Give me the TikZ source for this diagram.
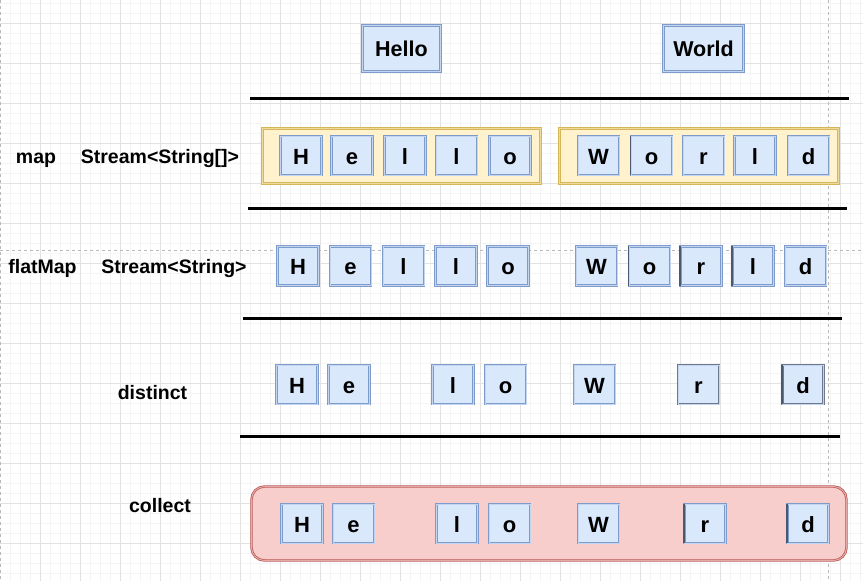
\documentclass[tikz,border=0pt]{standalone}
\usepackage{fontspec}
\setmainfont{Liberation Sans}
\definecolor{bfill}{HTML}{DAE8FC}
\definecolor{bdraw}{HTML}{7E9CCB}
\definecolor{binner}{HTML}{C3D5F0}
\definecolor{ydraw}{HTML}{D6B656}
\definecolor{yfill}{HTML}{FFF2CC}
\definecolor{rdraw}{HTML}{B85450}
\definecolor{rfill}{HTML}{F8CECC}
\definecolor{gmin}{HTML}{F4F4F4}
\definecolor{gmaj}{HTML}{E2E2E2}
\definecolor{darkb}{HTML}{4A5870}
\begin{document}
\begin{tikzpicture}[x=1pt,y=-1pt,
  minorgrid/.style={draw=gmin,line width=0.6pt},
  majorgrid/.style={draw=gmaj,line width=0.8pt},
  pagebreak/.style={draw=gray!55,line width=0.6pt,dash pattern=on 3pt off 3pt},
  letterbox/.style={rectangle,draw=bdraw,double=binner,double distance=1pt,line width=0.8pt,
    fill=bfill,inner sep=0pt,minimum width=41pt,minimum height=39pt,
    text height=17pt,text depth=0pt,
    font=\fontsize{22}{24}\selectfont\bfseries},
  wordbox/.style={rectangle,draw=bdraw,double=binner,double distance=1pt,line width=0.8pt,
    fill=bfill,inner sep=0pt,minimum height=46pt,font=\fontsize{21.5}{24}\selectfont\bfseries},
  darkbox/.style={letterbox,draw=darkb!80},
  groupbox/.style={rectangle,draw=ydraw,double=yfill!60!ydraw,double distance=1pt,line width=0.7pt,
    fill=yfill,inner sep=0pt,minimum height=55pt},
  collectbox/.style={rectangle,rounded corners=13pt,draw=rdraw,double=rfill!70!rdraw,double distance=1pt,
    line width=0.7pt,fill=rfill,inner sep=0pt,minimum width=595pt,minimum height=74pt},
  steplabel/.style={font=\fontsize{19.5}{22}\selectfont\bfseries,inner sep=0pt,
    text height=14pt,text depth=5pt},
  divider/.style={line width=3pt,draw=black},
  darkedge/.style={draw=darkb,line width=1.4pt}]
\useasboundingbox (0,0) rectangle (863,581);
\fill[white] (0,0) rectangle (863,581);
% grid
\foreach \x in {10,20,...,860} \draw[minorgrid] (\x,0) -- (\x,581);
\foreach \y in {3,13,...,580} \draw[minorgrid] (0,\y) -- (863,\y);
\foreach \x in {40,80,...,840} \draw[majorgrid] (\x,0) -- (\x,581);
\foreach \y in {23,63,...,563} \draw[majorgrid] (0,\y) -- (863,\y);
\draw[pagebreak] (0.5,0) -- (0.5,581);
\draw[pagebreak] (828,0) -- (828,581);
\draw[pagebreak] (0,250) -- (863,250);

% top words
\node[wordbox,minimum width=78pt] (hello) at (401.5,48.5) {Hello};
\node[wordbox,minimum width=80pt] (world) at (703.5,48.5) {World};

% dividers
\coordinate (d1a) at (250,98);  \coordinate (d1b) at (849,98);
\coordinate (d2a) at (248,208); \coordinate (d2b) at (847,208);
\coordinate (d3a) at (243,318); \coordinate (d3b) at (842,318);
\coordinate (d4a) at (240,436); \coordinate (d4b) at (840,436);
\draw[divider] (d1a) -- (d1b);
\draw[divider] (d2a) -- (d2b);
\draw[divider] (d3a) -- (d3b);
\draw[divider] (d4a) -- (d4b);

% map row
\node[steplabel] (lmap) at (36,159) {map};
\node[steplabel] (tmap) at (160,159) {Stream<String[]>};
\node[groupbox,minimum width=278pt] (ghello) at (401.5,156) {};
\node[groupbox,minimum width=279pt] (gworld) at (699,156) {};
\node[letterbox] (m1) at (301,155.5) {H};
\node[letterbox] (m2) at (352,155.5) {e};
\node[letterbox] (m3) at (405,155.5) {l};
\node[letterbox] (m4) at (456.5,155.5) {l};
\node[letterbox] (m5) at (510,155.5) {o};
\node[letterbox] (m6) at (598.5,155.5) {W};
\node[letterbox] (m7) at (651.5,155.5) {o};
\node[letterbox] (m8) at (703.5,155.5) {r};
\node[letterbox] (m9) at (755,155.5) {l};
\node[letterbox] (m10) at (808.5,155.5) {d};
\draw[darkedge] (m7.north west) -- (m7.south west);

% flatMap row
\node[steplabel] (lflat) at (42.5,268.5) {flatMap};
\node[steplabel] (tflat) at (174,268.5) {Stream<String>};
\node[letterbox] (f1) at (298,266) {H};
\node[letterbox] (f2) at (350.5,266) {e};
\node[letterbox] (f3) at (403.5,266) {l};
\node[letterbox] (f4) at (456,266) {l};
\node[letterbox] (f5) at (508,266) {o};
\node[letterbox] (f6) at (596.5,266) {W};
\node[letterbox] (f7) at (649.5,266) {o};
\node[letterbox] (f8) at (701,266) {r};
\node[letterbox] (f9) at (753,266) {l};
\node[letterbox] (f10) at (805.5,266) {d};
\draw[darkedge] (f7.north west) -- (f7.south west);
\draw[darkedge] (f8.north west) -- (f8.south west);
\draw[darkedge] (f9.north west) -- (f9.south west);

% distinct row
\node[steplabel] (ldist) at (152.5,395) {distinct};
\node[letterbox] (s1) at (297,384.5) {H};
\node[letterbox] (s2) at (349,384.5) {e};
\node[letterbox] (s3) at (453,384.5) {l};
\node[letterbox] (s4) at (505.5,384.5) {o};
\node[letterbox] (s5) at (594.5,384.5) {W};
\node[darkbox] (s6) at (698.5,384.5) {r};
\node[darkbox] (s7) at (803,384.5) {d};
\draw[darkedge] (s7.north west) -- (s7.south west);

% collect row
\node[steplabel] (lcoll) at (160,508) {collect};
\node[collectbox] (coll) at (549,523.5) {};
\node[letterbox] (c1) at (302,523.5) {H};
\node[letterbox] (c2) at (353.5,523.5) {e};
\node[letterbox] (c3) at (457,523.5) {l};
\node[letterbox] (c4) at (509.5,523.5) {o};
\node[letterbox] (c5) at (598.5,523.5) {W};
\node[letterbox] (c6) at (705,523.5) {r};
\node[letterbox] (c7) at (808,523.5) {d};
\draw[darkedge] (c6.north west) -- (c6.south west);
\draw[darkedge] (c7.north west) -- (c7.south west);
\end{tikzpicture}
\end{document}
